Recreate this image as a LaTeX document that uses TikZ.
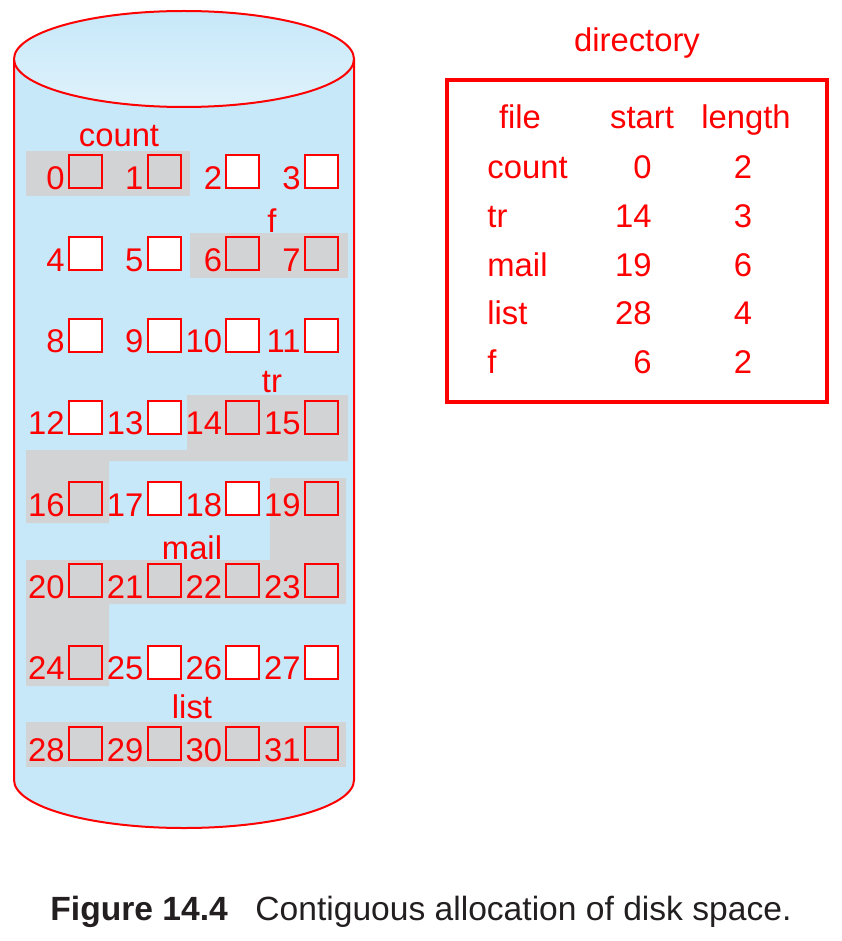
\documentclass[tikz,border=0pt]{standalone}
\usepackage{fontspec}
\setmainfont{Liberation Sans}
\usepackage{tikz}
\usetikzlibrary{positioning,calc}

\definecolor{diskblue}{HTML}{C6E8F9}
\definecolor{allocgray}{HTML}{D1D3D4}
\definecolor{capgray}{HTML}{231F20}

\begin{document}
\begin{tikzpicture}[
    x=0.5pt, y=-0.5pt,
    redtext/.style={text=red, font=\fontsize{16.4}{19}\selectfont, inner sep=0pt},
    blk/.style={draw=red, line width=1pt, minimum size=16.5pt, inner sep=0pt},
    free/.style={blk, fill=white},
    used/.style={blk},
    alloc/.style={fill=allocgray},
    dirframe/.style={draw=red, line width=2pt, minimum width=190pt, minimum height=161pt},
]
    \useasboundingbox (0,0) rectangle (841,941);

    % disk body
    \fill[diskblue] (14,59) -- (14,780) arc[start angle=180, end angle=0, x radius=170, y radius=48] -- (354,59) -- cycle;
    \draw[red, line width=1pt] (14,59) -- (14,780) arc[start angle=180, end angle=0, x radius=170, y radius=48] -- (354,59);
    \shade[top color=diskblue, bottom color=diskblue!55!white] (184,59) ellipse[x radius=170, y radius=48];
    \draw[red, line width=1pt] (184,59) ellipse[x radius=170, y radius=48];

    % allocated extents
    \fill[alloc] (26,151) rectangle (190,196);
    \fill[alloc] (190,233) rectangle (348,278);
    \fill[alloc] (187,395) -- (348,395) -- (348,461) -- (109,461) -- (109,523) -- (26,523) -- (26,450) -- (187,450) -- cycle;
    \fill[alloc] (270,478) -- (346,478) -- (346,604) -- (109,604) -- (109,686) -- (26,686) -- (26,560) -- (270,560) -- cycle;
    \fill[alloc] (26,722) rectangle (346,767);

    % blocks
    \foreach \i/\st in {0/used,1/used,2/free,3/free,4/free,5/free,6/used,7/used,
                        8/free,9/free,10/free,11/free,12/free,13/free,14/used,15/used,
                        16/used,17/free,18/free,19/used,20/used,21/used,22/used,23/used,
                        24/used,25/free,26/free,27/free,28/used,29/used,30/used,31/used}{
        \pgfmathtruncatemacro\row{int(\i/4)}
        \pgfmathtruncatemacro\col{mod(\i,4)}
        \node[\st] (b\i) at ({85.5+78.7*\col},{172+81.7*\row}) {};
        \node[redtext, anchor=base east] (n\i) at ([xshift=-1.5pt]b\i.south west) {\i};
    }

    % file names on the disk
    \node[redtext, anchor=base] (lcount) at (119,147) {count};
    \node[redtext, anchor=base] (lf) at (272,233) {f};
    \node[redtext, anchor=base] (ltr) at (272,392) {tr};
    \node[redtext, anchor=base] (lmail) at (192,559) {mail};
    \node[redtext, anchor=base] (llist) at (192,718) {list};

    % directory
    \node[redtext, anchor=base] (dirtitle) at (637,52) {directory};
    \node[dirframe] (dir) at (637,241) {};
    \node[redtext, anchor=base] (hfile) at (520,129) {file};
    \node[redtext, anchor=base] (hstart) at (642,129) {start};
    \node[redtext, anchor=base] (hlength) at (746,129) {length};
    \foreach \name/\start/\len [count=\k from 0] in {count/0/2, tr/14/3, mail/19/6, list/28/4, f/6/2}{
        \node[redtext, anchor=base west] (dn\k) at (487,{179+48.5*\k}) {\name};
        \node[redtext, anchor=base east] (ds\k) at (652,{179+48.5*\k}) {\start};
        \node[redtext, anchor=base] (dl\k) at (743,{179+48.5*\k}) {\len};
    }

    % caption
    \node[anchor=base west, inner sep=0pt, text=capgray, font=\fontsize{16.8}{20}\selectfont\bfseries] (capnum) at (50,920) {Figure 14.4};
    \node[anchor=base west, inner sep=0pt, text=capgray, font=\fontsize{16.8}{20}\selectfont] (captext) at (255,920) {Contiguous allocation of disk space.};
\end{tikzpicture}
\end{document}
